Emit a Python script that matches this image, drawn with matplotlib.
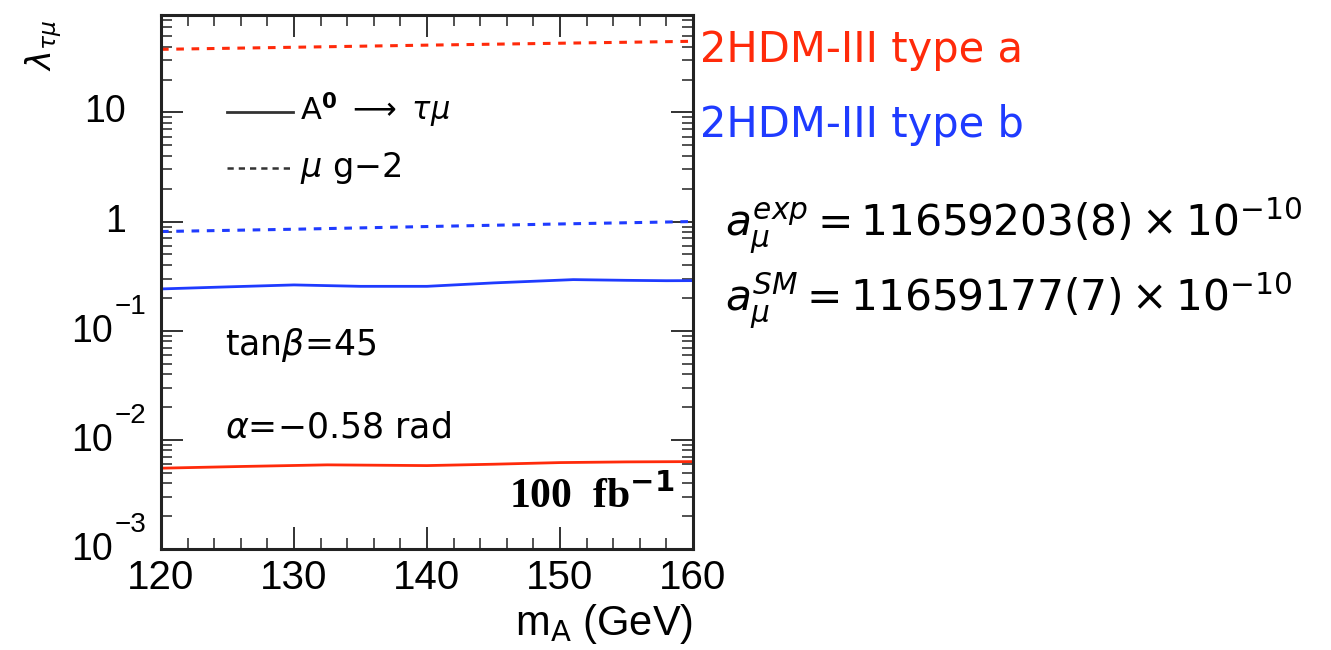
import matplotlib
matplotlib.use("Agg")
import matplotlib.pyplot as plt
from matplotlib.ticker import FixedLocator, LogLocator, NullFormatter
from matplotlib.transforms import offset_copy
from matplotlib.lines import Line2D

plt.rcParams['font.family'] = ['Liberation Sans', 'DejaVu Sans']
plt.rcParams['mathtext.fontset'] = 'dejavusans'

# ---- data ----
massA_tau = [120, 126, 132.5, 140, 145, 150, 155, 160]
typeA_tau = [0.00550, 0.00570, 0.00590, 0.00581, 0.00598, 0.00619, 0.00628, 0.00632]
massB_tau = [120, 125, 130, 135, 140, 145, 151, 155, 158, 160]
typeB_tau = [0.2413, 0.2520, 0.2626, 0.2549, 0.2549, 0.2740, 0.2937, 0.2893, 0.2870, 0.2875]
mass_g2 = [120, 130, 140, 150, 160]
typeA_g2 = [37.8, 39.5, 41.3, 43.0, 44.8]
typeB_g2 = [0.81, 0.85, 0.90, 0.95, 1.00]

xticks = [120, 130, 140, 150, 160]
yticks = [1e-3, 1e-2, 1e-1, 1, 10]
ytick_base = ['10', '10', '10', '1', '10']
ytick_exp = ['\u22123', '\u22122', '\u22121', '', '']

red = '#ff2a0a'
blue = '#1f3bff'

W, H = 1331, 650
fig = plt.figure(figsize=(W / 100, H / 100), dpi=100)
x0, x1, y0, y1 = 161, 693, 15, 549
ax = fig.add_axes([x0 / W, 1 - y1 / H, (x1 - x0) / W, (y1 - y0) / H])

ax.plot(massA_tau, typeA_tau, color=red, lw=2.0, solid_capstyle='butt', solid_joinstyle='round')
ax.plot(massB_tau, typeB_tau, color=blue, lw=2.0, solid_capstyle='butt', solid_joinstyle='round')
ax.plot(mass_g2, typeA_g2, color=red, lw=2.2, dashes=(2.5, 2.5))
ax.plot(mass_g2, typeB_g2, color=blue, lw=2.2, dashes=(2.5, 2.5))

ax.set_yscale('log')
ax.set_xlim(120, 160)
ax.set_ylim(1e-3, 78)

ax.xaxis.set_major_locator(FixedLocator(xticks))
ax.xaxis.set_minor_locator(FixedLocator(list(range(120, 161, 2))))
ax.yaxis.set_major_locator(FixedLocator(yticks))
ax.yaxis.set_major_formatter(NullFormatter())
ax.yaxis.set_minor_locator(LogLocator(base=10, subs=range(2, 10), numticks=20))
ax.yaxis.set_minor_formatter(NullFormatter())

ax.tick_params(which='both', direction='in', top=True, right=True, color='#222222')
ax.tick_params(which='major', length=16, width=1.3)
ax.tick_params(which='minor', length=8, width=1.1)
ax.tick_params(axis='x', which='major', labelsize=29, pad=7)
for sp in ax.spines.values():
    sp.set_linewidth(2.2)
    sp.set_color('#222222')

# y tick labels, ROOT style (base + raised exponent)
ytr = ax.get_yaxis_transform()
for val, b, e in zip(yticks, ytick_base, ytick_exp):
    if e:
        ax.text(0, val, b, transform=offset_copy(ytr, fig=fig, x=-48, y=-1, units='dots'),
                fontsize=27, ha='right', va='center')
        ax.text(0, val, e, transform=offset_copy(ytr, fig=fig, x=-46, y=24, units='dots'),
                fontsize=20, ha='left', va='center')
    else:
        ax.text(0, val, b, transform=offset_copy(ytr, fig=fig, x=-35, y=0, units='dots'),
                fontsize=27, ha='right', va='center')

# legend (manual)
ax.add_line(Line2D([0.124, 0.248], [0.818, 0.818], transform=ax.transAxes, color='#333333', lw=2.0))
ax.add_line(Line2D([0.124, 0.248], [0.713, 0.713], transform=ax.transAxes, color='#333333', lw=1.8, dashes=(2.5, 2.0)))
ax.text(0.262, 0.822, r'A$^{\mathbf{0}}$ $\longrightarrow$ $\tau\mu$', transform=ax.transAxes,
        fontsize=22, va='center', ha='left', family='DejaVu Sans')
ax.text(0.262, 0.713, r'$\mu$ g$-$2', transform=ax.transAxes, fontsize=24, va='center', ha='left',
        family='DejaVu Sans')

ax.text(0.12, 0.382, r'tan$\beta$=45', transform=ax.transAxes, fontsize=25, va='center', ha='left',
        family='DejaVu Sans')
ax.text(0.12, 0.227, r'$\alpha$=$-$0.58 rad', transform=ax.transAxes, fontsize=25, va='center', ha='left',
        family='DejaVu Sans')
ax.text(0.965, 0.10, r'100  fb$^{\mathbf{-1}}$', transform=ax.transAxes, fontsize=30, va='center', ha='right',
        family='Liberation Serif', weight='bold')

# axis labels
fig.text(44 / W, 1 - 45 / H, r'$\lambda_{\tau\mu}$', fontsize=24, rotation=90, ha='center', va='center')
fig.text(x1 / W, 1 - 624 / H, r'm$_{\rm A}$ (GeV)', fontsize=30, ha='right', va='center')

# right-hand annotations
fig.text(700 / W, 1 - 50 / H, '2HDM-III type a', color=red, fontsize=30, ha='left', va='center',
         family='DejaVu Sans')
fig.text(700 / W, 1 - 125 / H, '2HDM-III type b', color=blue, fontsize=30, ha='left', va='center',
         family='DejaVu Sans')
fig.text(725 / W, 1 - 225 / H, r'$a_{\mu}^{exp} = 11659203(8)\times10^{-10}$', fontsize=30.5, ha='left', va='center')
fig.text(725 / W, 1 - 300 / H, r'$a_{\mu}^{SM} = 11659177(7)\times10^{-10}$', fontsize=30.5, ha='left', va='center')

fig.savefig('out.png', dpi=100)
